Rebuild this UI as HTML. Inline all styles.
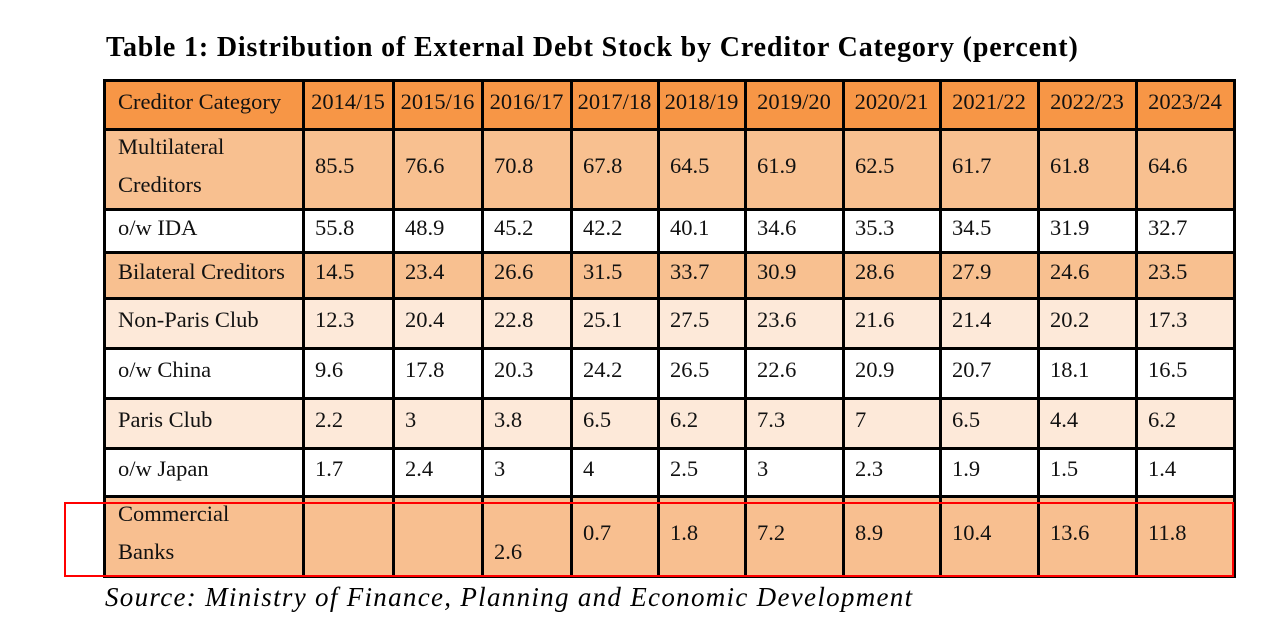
<!DOCTYPE html>
<html><head><meta charset="utf-8"><style>
body{margin:0;width:1278px;height:638px;background:#fff;position:relative;overflow:hidden;font-family:"Liberation Serif",serif;}
#title{position:absolute;left:106px;top:32px;font-size:28px;letter-spacing:0.85px;font-weight:bold;white-space:nowrap;color:#000;}
#source{position:absolute;left:105px;top:582px;font-size:27px;letter-spacing:1.3px;font-style:italic;white-space:nowrap;color:#000;}
.cell{position:absolute;box-sizing:border-box;font-size:22.5px;color:#111;display:flex;align-items:center;}
.cell span{display:block;line-height:38px;margin-top:-6px;}
.vline,.hline{position:absolute;background:#000;}
#redbox{position:absolute;left:64px;top:502px;width:1170px;height:75px;box-sizing:border-box;border:2.5px solid #f00;}
</style></head><body>
<div id="title">Table 1: Distribution of External Debt Stock by Creditor Category (percent)</div>
<div id="tbl"></div>
<div id="redbox"></div>
<div id="source">Source: Ministry of Finance, Planning and Economic Development</div>
<script>
const years=["2014/15","2015/16","2016/17","2017/18","2018/19","2019/20","2020/21","2021/22","2022/23","2023/24"];
const categories=["Multilateral<br>Creditors","o/w IDA","Bilateral Creditors","Non-Paris Club","o/w China","Paris Club","o/w Japan","Commercial<br>Banks"];
const multilateral=["85.5","76.6","70.8","67.8","64.5","61.9","62.5","61.7","61.8","64.6"];
const ida=["55.8","48.9","45.2","42.2","40.1","34.6","35.3","34.5","31.9","32.7"];
const bilateral=["14.5","23.4","26.6","31.5","33.7","30.9","28.6","27.9","24.6","23.5"];
const nonParis=["12.3","20.4","22.8","25.1","27.5","23.6","21.6","21.4","20.2","17.3"];
const china=["9.6","17.8","20.3","24.2","26.5","22.6","20.9","20.7","18.1","16.5"];
const paris=["2.2","3","3.8","6.5","6.2","7.3","7","6.5","4.4","6.2"];
const japan=["1.7","2.4","3","4","2.5","3","2.3","1.9","1.5","1.4"];
const commercial=["","","2.6","0.7","1.8","7.2","8.9","10.4","13.6","11.8"];
const series=[multilateral,ida,bilateral,nonParis,china,paris,japan,commercial];
const colX=[104,303,393,482,571,658,745,843,940,1038,1136,1234];
const rowY=[80,129,209,252,298,348,398,448,496,576];
const rowBg=["#F79646","#F8C090","#ffffff","#F8C090","#FDE9D9","#ffffff","#FDE9D9","#ffffff","#F8BF90"];
const tbl=document.getElementById('tbl');
function cell(r,c,html,name){
  const d=document.createElement('div');
  d.className='cell';
  
  
  d.style.left=colX[c]+'px';d.style.top=rowY[r]+'px';
  d.style.width=(colX[c+1]-colX[c])+'px';d.style.height=(rowY[r+1]-rowY[r])+'px';
  d.style.background=rowBg[r];
  d.style.paddingLeft=(c===0?14:(r===0?4:12))+'px';
  if(r===0&&c>0){d.style.justifyContent='center';d.style.paddingLeft='0';}
  d.innerHTML='<span>'+html+'</span>';
  tbl.appendChild(d);return d;
}
cell(0,0,"Creditor Category","header-creditor-category");
years.forEach((y,i)=>cell(0,i+1,y,"header-"+y.replace('/','-')));
categories.forEach((cat,r)=>{
  cell(r+1,0,cat,"row-label-"+(r+1));
  series[r].forEach((v,i)=>{
    const d=cell(r+1,i+1,v,"value-r"+(r+1)+"-c"+(i+1));
    if(r===7&&i===2){d.style.alignItems='flex-end';d.firstChild.style.marginBottom='5px';}
  });
});
colX.forEach((x,i)=>{
  const l=document.createElement('div');l.className='vline';
  
  
  l.style.left=(x-1)+'px';l.style.top=(rowY[0]-1)+'px';l.style.width='3px';
  l.style.height=(rowY[rowY.length-1]-rowY[0]+2)+'px';tbl.appendChild(l);
});
rowY.forEach(y=>{
  const l=document.createElement('div');l.className='hline';
  
  
  l.style.left=(colX[0]-1)+'px';l.style.top=(y-1)+'px';l.style.height='3px';
  l.style.width=(colX[colX.length-1]-colX[0]+3)+'px';tbl.appendChild(l);
});
</script>
</body></html>
